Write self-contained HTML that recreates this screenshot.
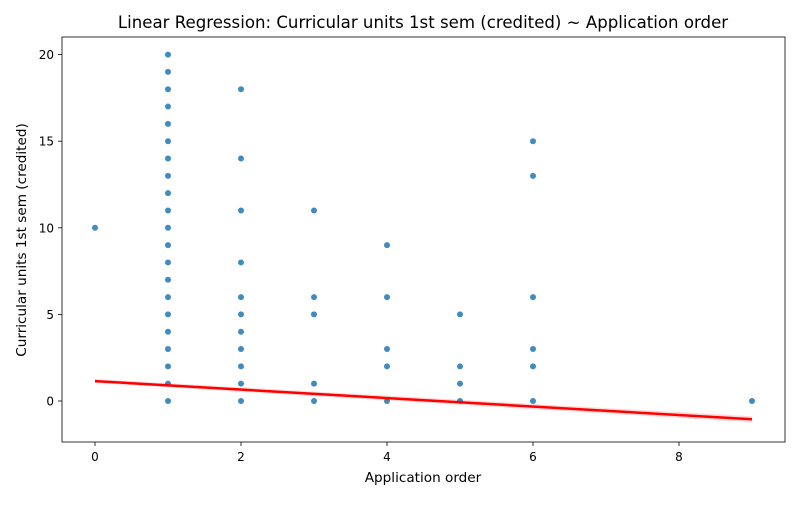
<!DOCTYPE html>
<html><head><meta charset="utf-8"><style>
body{margin:0;background:#fff;font-family:"Liberation Sans","DejaVu Sans",sans-serif}
svg text{font-family:"DejaVu Sans","Liberation Sans",sans-serif}
</style></head><body>
<svg id="chart" width="800" height="500" viewBox="0 0 800 500" xmlns="http://www.w3.org/2000/svg">
<rect width="800" height="500" fill="#fff"/>
<text x="423" y="28" font-size="16.6" text-anchor="middle">Linear Regression: Curricular units 1st sem (credited) ~ Application order</text>
<g id="plot"></g>
<rect x="62" y="37" width="723" height="405" fill="none" stroke="#000" stroke-width="0.8"/>
<text x="423" y="482" font-size="13.6" text-anchor="middle">Application order</text>
<text transform="translate(26,240) rotate(-90)" font-size="13.6" text-anchor="middle">Curricular units 1st sem (credited)</text>
</svg>
<script>
const xTicks=[0,2,4,6,8];
const yTicks=[0,5,10,15,20];
const pointX=[0,
1,1,1,1,1,1,1,1,1,1,1,1,1,1,1,1,1,1,1,1,1,
2,2,2,2,2,2,2,2,2,2,2,
3,3,3,3,3,
4,4,4,4,4,
5,5,5,5,
6,6,6,6,6,6,
9];
const pointY=[10,
0,1,2,3,4,5,6,7,8,9,10,11,12,13,14,15,16,17,18,19,20,
0,1,2,3,4,5,6,8,11,14,18,
0,1,5,6,11,
0,2,3,6,9,
0,1,2,5,
0,2,3,6,13,15,
0];
const regIntercept=1.15;
const regSlope=-0.245;
const xs=v=>95+v*73;
const ys=v=>401-v*17.32;
const NS="http://www.w3.org/2000/svg";
const svg=document.getElementById('chart');
const g=document.getElementById('plot');
function mk(t,a,p){const e=document.createElementNS(NS,t);for(const k in a)e.setAttribute(k,a[k]);(p||g).appendChild(e);return e;}
xTicks.forEach(v=>{
 const l=mk('line',{x1:xs(v),x2:xs(v),y1:442,y2:446,stroke:'#000','stroke-width':0.8},svg);
 
 
 const t=mk('text',{x:xs(v),y:461,'font-size':12,'text-anchor':'middle'},svg);
 t.textContent=v;
 
 
});
yTicks.forEach(v=>{
 const l=mk('line',{x1:58,x2:62,y1:ys(v),y2:ys(v),stroke:'#000','stroke-width':0.8},svg);
 
 
 const t=mk('text',{x:54,y:ys(v)+4.5,'font-size':12,'text-anchor':'end'},svg);
 t.textContent=v;
 
 
});
pointX.forEach((x,i)=>{
 const c=mk('circle',{cx:xs(x),cy:ys(pointY[i]),r:3,fill:'#1f77b4','fill-opacity':0.85});
 
 
});
const band=mk('polygon',{points:`${xs(0)},${ys(regIntercept)-2} ${xs(9)},${ys(regIntercept+regSlope*9)-3} ${xs(9)},${ys(regIntercept+regSlope*9)+3} ${xs(0)},${ys(regIntercept)+2}`,fill:'#ff0000','fill-opacity':0.15});


const line=mk('line',{x1:xs(0),y1:ys(regIntercept),x2:xs(9),y2:ys(regIntercept+regSlope*9),stroke:'#ff0000','stroke-width':2.5});


</script>
</body></html>
